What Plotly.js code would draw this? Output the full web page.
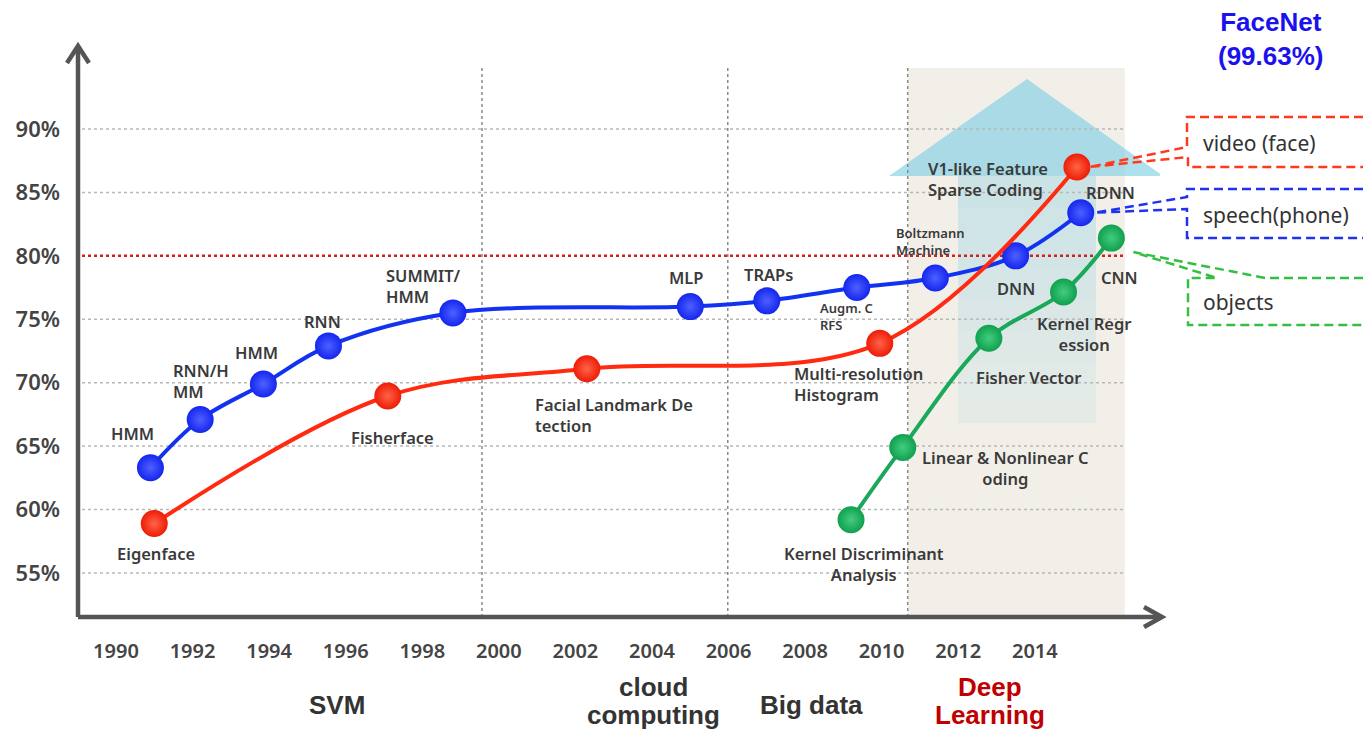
<!DOCTYPE html>
<html><head><meta charset="utf-8">
<script src="https://cdn.plot.ly/plotly-3.0.1.min.js"></script>
<style>html,body{margin:0;padding:0;background:#fff;}#chart{width:1363px;height:731px;}</style>
</head><body><div id="chart"></div>
<script>
// ---- data ----
const speechYears = [1990.9, 1992.2, 1993.85, 1995.55, 1998.8, 2005.0, 2007.0, 2009.35, 2011.4, 2013.5, 2015.2];
const speechAcc = [63.3, 67.1, 69.9, 72.9, 75.5, 76.0, 76.45, 77.5, 78.25, 80.0, 83.4];
const speechLabels = ['HMM', 'RNN/H<br>MM', 'HMM', 'RNN', 'SUMMIT/<br>HMM', 'MLP', 'TRAPs', 'Augm. C<br>RFS', 'Boltzmann<br>Machine', 'DNN', 'RDNN'];

const faceYears = [1991.0, 1997.1, 2002.3, 2009.95, 2015.1];
const faceAcc = [58.9, 68.95, 71.1, 73.1, 87.0];
const faceLabels = ['Eigenface', 'Fisherface', 'Facial Landmark De<br>tection', 'Multi-resolution<br>Histogram', 'V1-like Feature<br>Sparse Coding'];

const objectYears = [2009.2, 2010.55, 2012.8, 2014.75, 2016.0];
const objectAcc = [59.2, 64.9, 73.5, 77.15, 81.4];
const objectLabels = ['Kernel Discriminant<br>Analysis', 'Linear & Nonlinear C<br>oding', 'Fisher Vector', 'Kernel Regr<br>ession', 'CNN'];

const yearTicks = [1990, 1992, 1994, 1996, 1998, 2000, 2002, 2004, 2006, 2008, 2010, 2012, 2014];
const accTicks = [55, 60, 65, 70, 75, 80, 85, 90];
const accTickText = ['55%', '60%', '65%', '70%', '75%', '80%', '85%', '90%'];
const threshold = 80;
const eraBoundaries = [1999.56, 2005.98, 2010.68];
const deepLearningSpan = [2010.68, 2016.35];
const calloutTexts = ['video (face)', 'speech(phone)', 'objects'];
const bestResult = 'FaceNet<br>(99.63%)';

// ---- geometry ----
const W = 1363, H = 731, ML = 78, MR = 203, MT = 45, MB = 114;
const PW = W - ML - MR, PH = H - MT - MB;
const xRange = [1989.008, 2017.27], yRange = [51.53, 96.62];
const pxX = v => ML + (v - xRange[0]) / (xRange[1] - xRange[0]) * PW;
const pxY = v => MT + (yRange[1] - v) / (yRange[1] - yRange[0]) * PH;
const dX = p => xRange[0] + (p - ML) / PW * (xRange[1] - xRange[0]);
const dY = p => yRange[1] - (p - MT) / PH * (yRange[1] - yRange[0]);
const paX = p => (p - ML) / PW;
const paY = p => (MT + PH - p) / PH;

const labelFont = {family: 'Noto Sans', size: 16.5, color: '#3a3a3a', weight: 600};
const smallFont = {family: 'Noto Sans', size: 13, color: '#3a3a3a', weight: 600};

// label placement: [xshift, yshift, anchor, small]
const speechPos = [[-18, 34, 'center'], [-29, 38, 'left'], [-7, 31, 'center'], [-6, 24, 'center'], [-69, 27, 'left'], [-4, 29, 'center'], [2, 26, 'center'], [-39, -29, 'left', 1], [-41, 37, 'left', 1], [0, -33, 'center'], [30, 20, 'center']];
const facePos = [[2, -30, 'center'], [5, -41, 'center'], [-54, -46, 'left'], [-88, -41, 'left'], [-151, -12, 'left']];
const objectPos = [[13, -44, 'center'], [103, -21, 'center'], [40, -39, 'center'], [20, -42, 'center'], [8, -39, 'center']];

function series(xs, ys, lineColor, mColor, gColor, name) {
  return {
    type: 'scatter', mode: 'lines+markers', x: xs, y: ys, name: name,
    line: {color: lineColor, width: 4, shape: 'spline', smoothing: 1},
    marker: {size: 27, color: mColor, line: {width: 0}, gradient: {type: 'radial', color: gColor}},
    hoverinfo: 'skip', cliponaxis: false
  };
}
const traces = [
  series(speechYears, speechAcc, '#1232f2', '#1426ee', '#4f60ff', 'speech'),
  series(faceYears, faceAcc, '#ff2a10', '#ee1c06', '#ff6448', 'face'),
  series(objectYears, objectAcc, '#1aa85a', '#0fa04e', '#45cc80', 'objects')
];

const annotations = [];
function addLabels(xs, ys, labels, pos) {
  labels.forEach((t, i) => {
    const p = pos[i];
    annotations.push({x: xs[i], y: ys[i], xref: 'x', yref: 'y', text: t, showarrow: false,
      xanchor: p[2], yanchor: 'middle', align: p[2], xshift: p[0], yshift: p[1],
      font: p[3] ? smallFont : labelFont});
  });
}
addLabels(speechYears, speechAcc, speechLabels, speechPos);
addLabels(faceYears, faceAcc, faceLabels, facePos);
addLabels(objectYears, objectAcc, objectLabels, objectPos);

// era labels
const eraFont = {family: 'Liberation Sans', size: 26, color: '#333333', weight: 700};
const eraItems = [['SVM', 337, 705, '#333333'], ['cloud', 653, 687, '#333333'], ['computing', 653, 715, '#333333'], ['Big data', 811, 705, '#333333'], ['Deep', 990, 687, '#c00000'], ['Learning', 990, 715, '#c00000']];
eraItems.forEach(e => annotations.push({xref: 'paper', yref: 'paper', x: paX(e[1]), y: paY(e[2]), text: e[0], showarrow: false, xanchor: 'center', yanchor: 'middle', font: Object.assign({}, eraFont, {color: e[3]})}));

annotations.push({xref: 'paper', yref: 'paper', x: paX(1271), y: paY(39), text: bestResult, showarrow: false, xanchor: 'center', yanchor: 'middle', font: {family: 'Liberation Sans', size: 26, color: '#1a12ee', weight: 700}});
[[calloutTexts[0], 143], [calloutTexts[1], 215], [calloutTexts[2], 302]].forEach(c => annotations.push({xref: 'paper', yref: 'paper', x: paX(1201), y: paY(c[1]), text: c[0], showarrow: false, xanchor: 'left', yanchor: 'middle', font: {family: 'Noto Sans', size: 21, color: '#333'}}));

// ---- shapes ----
const shapes = [];
shapes.push({type: 'rect', xref: 'x', yref: 'y', x0: deepLearningSpan[0], x1: deepLearningSpan[1], y0: yRange[0], y1: dY(68), fillcolor: '#f2efe8', line: {width: 0}, layer: 'below'});
// big light-blue arrow
const headPath = `M ${dX(889)},${dY(176)} L ${dX(1027)},${dY(79)} L ${dX(1163)},${dY(176)} Z`;
shapes.push({type: 'path', xref: 'x', yref: 'y', path: headPath, fillcolor: 'rgba(125,205,228,0.62)', line: {width: 0}, layer: 'below'});
const segs = 8;
for (let i = 0; i < segs; i++) {
  const t0 = 176 + (423 - 176) * i / segs, t1 = 176 + (423 - 176) * (i + 1) / segs;
  shapes.push({type: 'rect', xref: 'x', yref: 'y', x0: dX(958), x1: dX(1096), y0: dY(t1), y1: dY(t0), fillcolor: `rgba(150,210,225,${(0.42 - i * 0.04).toFixed(2)})`, line: {width: 0}, layer: 'below'});
}
// gridlines
accTicks.forEach(v => {
  if (v === threshold) return;
  shapes.push({type: 'line', xref: 'x', yref: 'y', x0: dX(82), x1: deepLearningSpan[1], y0: v, y1: v, line: {color: '#b8b8b8', width: 1.5, dash: 'dot'}, layer: 'below'});
});
shapes.push({type: 'line', xref: 'x', yref: 'y', x0: dX(82), x1: deepLearningSpan[1], y0: threshold, y1: threshold, line: {color: '#d42020', width: 2.5, dash: 'dot'}, layer: 'below'});
eraBoundaries.forEach(v => shapes.push({type: 'line', xref: 'x', yref: 'y', x0: v, x1: v, y0: yRange[0], y1: dY(65), line: {color: '#8a8a8a', width: 1.5, dash: '3px,3px'}, layer: 'below'}));
// axes with arrows
const axC = '#555555';
shapes.push({type: 'line', xref: 'paper', yref: 'paper', x0: 0, x1: paX(1160), y0: 0, y1: 0, line: {color: axC, width: 4.5}});
shapes.push({type: 'line', xref: 'paper', yref: 'paper', x0: 0, x1: 0, y0: 0, y1: paY(47), line: {color: axC, width: 4.5}});
shapes.push({type: 'path', xref: 'paper', yref: 'paper', path: `M ${paX(67)},${paY(63)} L ${paX(78)},${paY(46)} L ${paX(89)},${paY(63)}`, line: {color: axC, width: 4.5}});
shapes.push({type: 'path', xref: 'paper', yref: 'paper', path: `M ${paX(1144)},${paY(607)} L ${paX(1162)},${paY(617)} L ${paX(1144)},${paY(627)}`, line: {color: axC, width: 4.5}});
// callouts (tips at last points of each series)
function pth(pts) { return 'M ' + pts.map(p => `${paX(p[0])},${paY(p[1])}`).join(' L '); }
const fT = [pxX(faceYears[4]) + 12, pxY(faceAcc[4])];
const sT = [pxX(speechYears[10]) + 14, pxY(speechAcc[10])];
const oT = [pxX(objectYears[4]) + 22, pxY(objectAcc[4]) + 14];
shapes.push({type: 'path', xref: 'paper', yref: 'paper', path: pth([[1363, 117], [1187, 117], [1187, 147], fT, [1188, 157], [1188, 167], [1363, 167]]), line: {color: '#ff3a1c', width: 2.5, dash: '9px,5px'}});
shapes.push({type: 'path', xref: 'paper', yref: 'paper', path: pth([[1363, 189], [1187, 189], [1187, 197], sT, [1187, 209], [1187, 238], [1363, 238]]), line: {color: '#1f33ee', width: 2.5, dash: '9px,5px'}});
shapes.push({type: 'path', xref: 'paper', yref: 'paper', path: pth([[1363, 278], [1265, 278], oT, [1217, 278], [1188, 278], [1188, 325], [1363, 325]]), line: {color: '#33c040', width: 2.5, dash: '9px,5px'}});

const layout = {
  width: W, height: H, margin: {l: ML, r: MR, t: MT, b: MB, pad: 0},
  paper_bgcolor: '#ffffff', plot_bgcolor: 'rgba(0,0,0,0)', showlegend: false,
  xaxis: {range: xRange, showgrid: false, zeroline: false, showline: false, ticks: '',
    tickvals: yearTicks, ticktext: yearTicks.map(String), ticklabelstandoff: 20,
    tickfont: {family: 'Noto Sans', size: 20, color: '#444', weight: 600}, fixedrange: true},
  yaxis: {range: yRange, showgrid: false, zeroline: false, showline: false, ticks: '',
    tickvals: accTicks, ticktext: accTickText, ticklabelstandoff: 17,
    tickfont: {family: 'Noto Sans', size: 22, color: '#444', weight: 600}, fixedrange: true},
  shapes: shapes, annotations: annotations
};
Plotly.newPlot('chart', traces, layout, {displayModeBar: false, staticPlot: true});
</script></body></html>
